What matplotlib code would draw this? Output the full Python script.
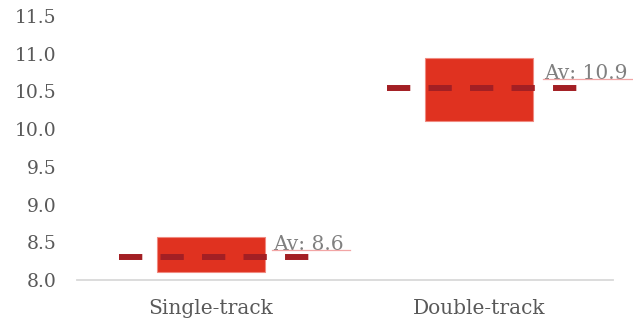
import matplotlib
matplotlib.use("Agg")
import matplotlib.pyplot as plt
from matplotlib.lines import Line2D

# Journey-time ranges by track type
categories = ["Single-track", "Double-track"]
range_low = [8.10, 10.11]
range_high = [8.57, 10.94]
typical = [8.30, 10.54]

y_ticks = [8.0, 8.5, 9.0, 9.5, 10.0, 10.5, 11.0, 11.5]

BAR_RED = "#E03220"
BAR_EDGE = "#F08A80"
LINE_RED = "#A31F24"
TICK_GREY = "#595959"
LABEL_GREY = "#808080"
LEADER_PINK = "#F2A5A5"

plt.rcParams["font.family"] = ["DejaVu Serif"]

DPI = 100
fig = plt.figure(figsize=(6.33, 3.22), dpi=DPI)
ax = fig.add_axes([77 / 633, 42 / 322, 536 / 633, 264 / 322])

x = list(range(len(categories)))
heights = [h - l for h, l in zip(range_high, range_low)]
ax.bar(x, heights, bottom=range_low, width=0.40, color=BAR_RED,
       edgecolor=BAR_EDGE, linewidth=0.8, zorder=2)

# dashed reference level across each category
for xi, v in zip(x, typical):
    ax.add_line(Line2D([xi - 0.345, xi + 0.37], [v, v], color=LINE_RED,
                       linewidth=4.3, linestyle=(0, (3.9, 3.05)),
                       solid_capstyle="butt", dash_capstyle="butt", zorder=3))

ax.set_xlim(-0.5, 1.5)
ax.set_ylim(8.0, 11.5)
ax.set_yticks(y_ticks)
ax.set_yticklabels([f"{t:.1f}" for t in y_ticks])
ax.set_xticks(x)
ax.set_xticklabels(categories)

ax.tick_params(axis="y", length=0, pad=15, labelsize=13.5, labelcolor=TICK_GREY)
ax.tick_params(axis="x", length=0, pad=14, labelsize=14.5, labelcolor=TICK_GREY)
for side in ("left", "right", "top"):
    ax.spines[side].set_visible(False)
ax.spines["bottom"].set_color("#D9D9D9")
ax.spines["bottom"].set_linewidth(1.3)

# value labels beside each bar top, with a thin leader underline
label_offsets = [(9, -13), (12, -21)]
texts = []
for xi, top, (dx, dy) in zip(x, range_high, label_offsets):
    t = ax.annotate(f"Av: {top:.1f}", xy=(xi + 0.20, top), xycoords="data",
                    xytext=(dx * 72 / DPI, dy * 72 / DPI), textcoords="offset points",
                    ha="left", va="baseline", fontsize=14.5, color=LABEL_GREY,
                    annotation_clip=False, zorder=4)
    texts.append(t)

fig.canvas.draw()
renderer = fig.canvas.get_renderer()
inv = fig.transFigure.inverted()
for xi, top, (dx, dy), t in zip(x, range_high, label_offsets, texts):
    bb = t.get_window_extent(renderer)
    bar_right_px = ax.transData.transform((xi + 0.20, top))
    y_px = bar_right_px[1] + dy
    x0 = bar_right_px[0] + dx - 2
    x1 = min(bb.x1 + 6, fig.bbox.width)
    (fx0, fy), (fx1, _) = inv.transform([(x0, y_px), (x1, y_px)])
    fig.add_artist(Line2D([fx0, fx1], [fy, fy], transform=fig.transFigure,
                          color=LEADER_PINK, linewidth=0.9, zorder=1))

fig.savefig("out.png", dpi=DPI)
